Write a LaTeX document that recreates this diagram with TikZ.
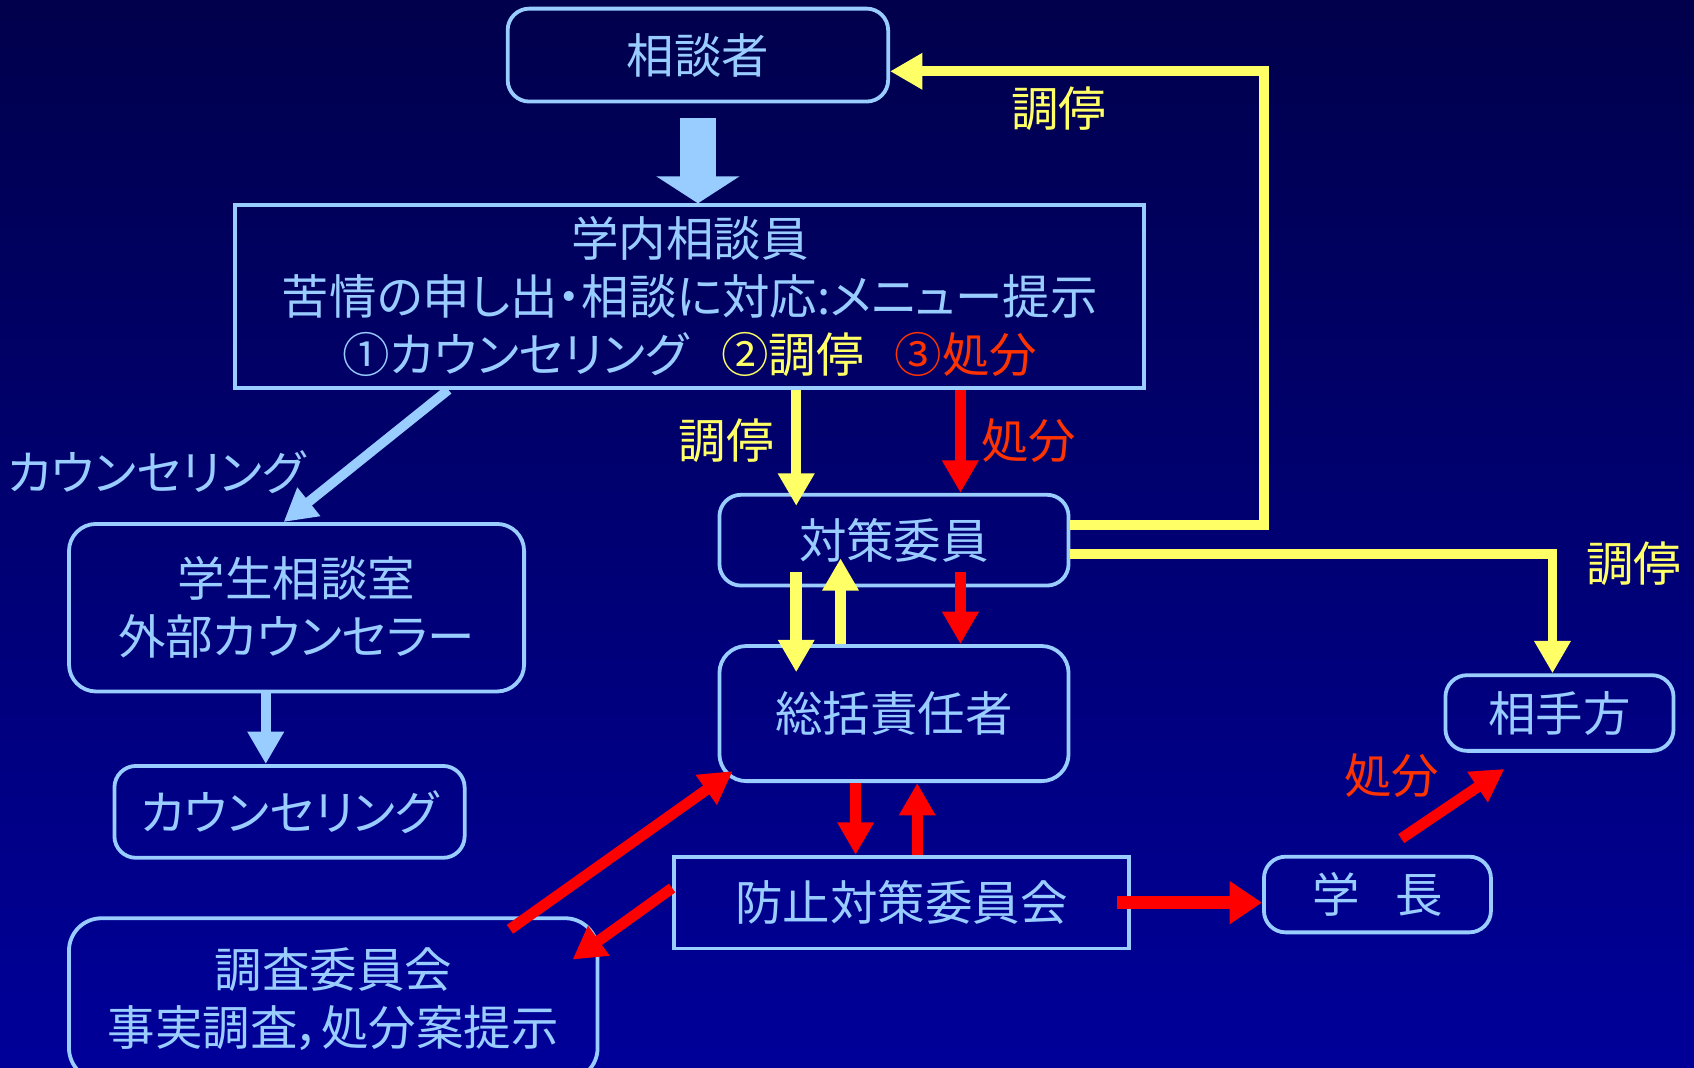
\documentclass[tikz,border=0pt]{standalone}
\usepackage{fontspec}
\setmainfont{Noto Sans CJK JP}[RawFeature={+palt}]
\usetikzlibrary{arrows.meta}
\usetikzlibrary{calc}

\definecolor{lblue}{RGB}{153,204,255}
\definecolor{ylw}{RGB}{255,255,102}
\definecolor{rd}{RGB}{255,0,0}
\definecolor{rdtext}{RGB}{255,51,0}
\definecolor{bgtop}{RGB}{0,0,76}
\definecolor{bgbot}{RGB}{0,0,153}

\begin{document}
\begin{tikzpicture}[x=0.01cm, y=-0.01cm,
        font=\fontsize{12.5pt}{15.3pt}\selectfont,
        rbox/.style={draw=lblue, line width=1pt, rounded corners=0.2cm, text=lblue, inner sep=0pt, align=center},
        sbox/.style={draw=lblue, line width=1pt, text=lblue, inner sep=0pt, align=center},
        bluearr/.style={draw=lblue, line width=0.09cm, -{Triangle[width=0.32cm,length=0.3cm]}},
        ylwarr/.style={draw=ylw, line width=0.09cm, line join=miter, -{Triangle[width=0.32cm,length=0.3cm]}},
        redarr/.style={draw=rd, line width=0.1cm, -{Triangle[width=0.32cm,length=0.3cm]}}]
            \useasboundingbox (0,0) rectangle (1568,988);
            \shade[top color=bgtop, bottom color=bgbot] (0,0) rectangle (1568,988);

            % boxes
            \node[rbox, minimum width=3.52cm, minimum height=0.86cm] (sodansha) at (646,51) {相談者};
            \node[sbox, minimum width=8.41cm, minimum height=1.69cm] (gakunai) at (638.5,274.5)
                {学内相談員\\苦情の申し出・相談に対応:メニュー提示\\
                 {\color{lblue}①カウンセリング}\hspace{0.7em}{\color{ylw}②調停}\hspace{0.65em}{\color{rdtext}③処分}};
            \node[rbox, rounded corners=0.25cm, minimum width=4.21cm, minimum height=1.55cm] (gakusei) at (274.5,562.5) {学生相談室\\外部カウンセラー};
            \node[rbox, minimum width=3.24cm, minimum height=0.85cm] (counsel) at (268,751.5) {カウンセリング};
            \node[rbox, rounded corners=0.3cm, minimum width=4.89cm, minimum height=1.5cm] (chosa) at (308.5,925) {調査委員会\\事実調査，処分案提示};
            \node[rbox, minimum width=3.23cm, minimum height=0.84cm] (taisaku) at (827.5,500) {対策委員};
            \node[rbox, rounded corners=0.25cm, minimum width=3.23cm, minimum height=1.25cm] (sokatsu) at (827.5,660.5) {総括責任者};
            \node[sbox, minimum width=4.21cm, minimum height=0.85cm] (boshi) at (834.5,835.5) {防止対策委員会};
            \node[rbox, minimum width=2.1cm, minimum height=0.7cm] (gakucho) at (1275,828) {学\hspace{0.75em}長};
            \node[rbox, minimum width=2.11cm, minimum height=0.7cm] (aite) at (1443.5,660) {相手方};

            % labels
            \node[text=ylw] (lchotei1) at (980,101) {調停};
            \node[text=ylw] (lchotei2) at (672,408) {調停};
            \node[text=rdtext] (lshobun1) at (952,408) {処分};
            \node[text=lblue] (lcounsel) at (145,437) {カウンセリング};
            \node[text=ylw] (lchotei3) at (1512,522) {調停};
            \node[text=rdtext] (lshobun2) at (1288,718) {処分};

            % columns
            \coordinate (xl) at (415,0);
            \coordinate (xb) at (246,0);
            \coordinate (xc1) at (737,0);
            \coordinate (xc2) at (889,0);
            \coordinate (xc3) at (778,0);
            \coordinate (xc4) at (792,0);
            \coordinate (xc5) at (849,0);
            \coordinate (xr) at (1170,0);
            \coordinate (xa) at (1437,0);

            % arrows
            \draw[draw=lblue, line width=0.34cm, -{Triangle[width=0.76cm,length=0.25cm]}]
                ($(sodansha.south)+(0,13)$) -- (gakunai.north -| sodansha.south);
            \draw[bluearr] (gakunai.south -| xl) -- ($(gakusei.north)+(-12,0)$);
            \draw[bluearr] (gakusei.south -| xb) -- (counsel.north -| xb);

            \draw[ylwarr] (gakunai.south -| xc1) -- ($(taisaku.north -| xc1)+(0,12)$);
            \draw[redarr] (gakunai.south -| xc2) -- (taisaku.north -| xc2);

            \coordinate (t1) at ($(taisaku.east)+(0,-14)$);
            \coordinate (s1) at ($(sodansha.east)+(0,15)$);
            \draw[ylwarr] (t1) -- (t1 -| xr) -- (xr |- s1) -- (s1);
            \coordinate (t2) at ($(taisaku.east)+(0,13)$);
            \draw[ylwarr] (t2) -| (aite.north -| xa);

            \draw[ylwarr, line width=0.11cm] ($(taisaku.south -| xc1)+(0,-14)$) -- ($(sokatsu.north -| xc1)+(0,26)$);
            \draw[ylwarr, line width=0.11cm] (sokatsu.north -| xc3) -- ($(taisaku.south -| xc3)+(0,-27)$);
            \draw[redarr] ($(taisaku.south -| xc2)+(0,-14)$) -- (sokatsu.north -| xc2);

            \draw[redarr] (sokatsu.south -| xc4) -- (boshi.north -| xc4);
            \draw[redarr] (boshi.north -| xc5) -- (sokatsu.south -| xc5);

            \draw[redarr, line width=0.12cm, -{Triangle[width=0.38cm,length=0.3cm]}]
                ($(boshi.east)+(-13,0)$) -- (gakucho.west |- boshi.east);
            \draw[redarr] ($(gakucho.north)+(22,-15)$) -- ($(aite.south)+(-51,15)$);

            \draw[redarr] ($(chosa.north)+(163.5,12)$) -- ($(sokatsu.south west)+(14,-11)$);
            \draw[redarr] ($(boshi.west)+(0,-13.5)$) -- ($(chosa.north east)+(-25,40)$);

        \end{tikzpicture}
\end{document}
